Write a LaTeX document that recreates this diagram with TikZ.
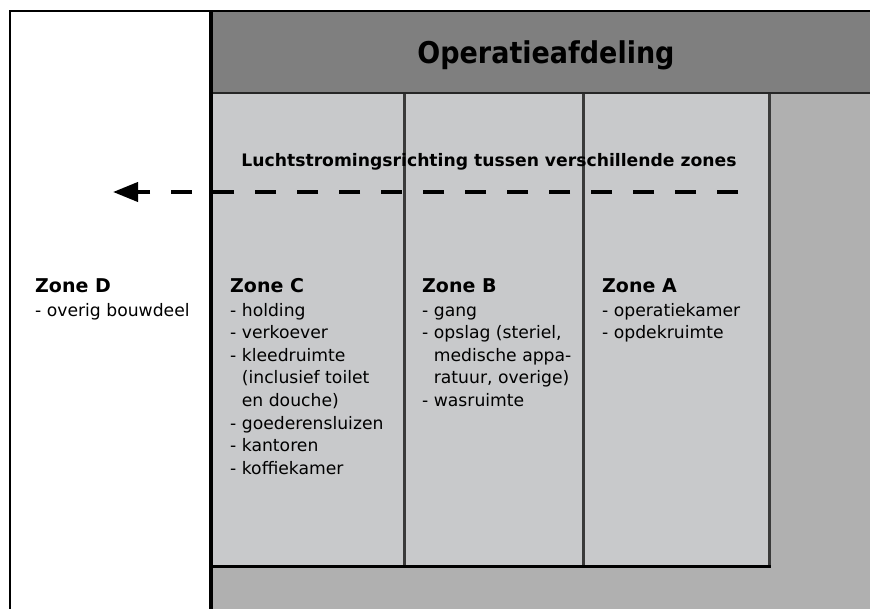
\documentclass[tikz,border=0pt]{standalone}
\usepackage{fontspec}
\setmainfont{DejaVu Sans}
\newfontfamily\condfont{DejaVu Sans Condensed}
\usetikzlibrary{arrows.meta,positioning}

\definecolor{kopgrijs}{HTML}{7F7F7F}
\definecolor{zonegrijs}{HTML}{C8C9CB}
\definecolor{randgrijs}{HTML}{B0B0B0}
\definecolor{lijngrijs}{HTML}{3A3A3A}

\newcommand{\kop}[1]{{\fontsize{19}{24}\selectfont\bfseries #1}}
\newcommand{\inspring}{\phantom{- }}

\begin{document}
\begin{tikzpicture}[x=1pt,y=-1pt,
    zonetekst/.style={anchor=north west,align=left,inner sep=0pt,
      font=\fontsize{17.2}{22.6}\selectfont},
    scheiding/.style={draw=lijngrijs,line width=3pt},
    stroming/.style={line width=4pt,dash pattern=on 21pt off 21pt,
      -{Triangle[length=25pt,width=19pt]}}]
    \useasboundingbox (0,0) rectangle (870,609);
    \clip (0,0) rectangle (870,609);
    \fill[white] (0,0) rectangle (870,609);
    \fill[kopgrijs] (211,11) rectangle (870,93);
    \fill[randgrijs] (211,93) rectangle (870,609);
    \fill[zonegrijs] (211,93) rectangle (769,566);
    \draw[scheiding] (404,93) -- (404,566);
    \draw[scheiding] (583,93) -- (583,566);
    \draw[scheiding] (769,93) -- (769,567.5);
    \draw[line width=2.5pt,draw=black!85] (211,93) -- (870,93);
    \draw[line width=3pt] (211,566) -- (770.5,566);
    \draw[line width=2pt] (10,609) -- (10,11) -- (870,11);
    \draw[line width=4pt] (211,11) -- (211,609);

    \node[anchor=base,inner sep=0pt,font=\condfont\bfseries\fontsize{30}{36}\selectfont]
      (titel) at (546,64) {Operatieafdeling};
    \node[anchor=base,inner sep=0pt,font=\bfseries\fontsize{17.2}{21}\selectfont]
      (richting) at (489,167) {Luchtstromingsrichting tussen verschillende zones};

    \coordinate (pijlstart) at (738,192);
    \coordinate (pijleind) at (113,192);
    \draw[stroming] (pijlstart) -- (pijleind);

    \node[zonetekst] (zoneD) at (35,276) {\strut\kop{Zone D}\\[1.4pt]
      - overig bouwdeel};
    \node[zonetekst] (zoneC) at (230,276) {\strut\kop{Zone C}\\[1.4pt]
      - holding\\- verkoever\\- kleedruimte\\\inspring(inclusief toilet\\
      \inspring en douche)\\- goederensluizen\\- kantoren\\- koffiekamer};
    \node[zonetekst] (zoneB) at (422,276) {\strut\kop{Zone B}\\[1.4pt]
      - gang\\- opslag (steriel,\\\inspring medische appa-\\
      \inspring ratuur, overige)\\- wasruimte};
    \node[zonetekst] (zoneA) at (602,276) {\strut\kop{Zone A}\\[1.4pt]
      - operatiekamer\\- opdekruimte};
\end{tikzpicture}
\end{document}
